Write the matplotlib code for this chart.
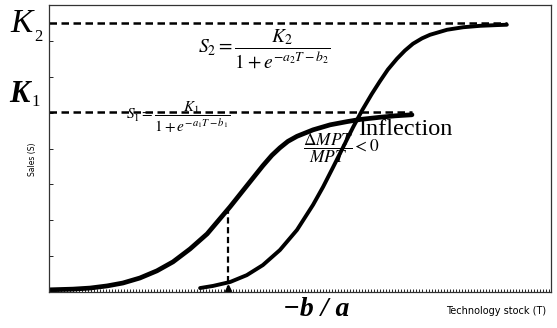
import numpy as np
import matplotlib.pyplot as plt
from matplotlib.ticker import MultipleLocator

plt.rcParams['mathtext.fontset'] = 'stix'

# curve points (technology stock, sales)
t1 = [0.0, 4.8, 8.2, 11.6, 14.7, 18.1, 21.5, 24.7, 28.1, 31.5, 34.1, 36.1, 39.4, 42.6,
      44.4, 46.0, 47.6, 49.4, 52.6, 56.0, 59.4, 62.0, 65.9, 68.9, 72.3]
s1 = [0.06, 0.08, 0.11, 0.17, 0.25, 0.39, 0.59, 0.84, 1.20, 1.62, 2.05, 2.38, 2.96, 3.52,
      3.81, 4.02, 4.20, 4.34, 4.52, 4.66, 4.75, 4.81, 4.87, 4.91, 4.94]

t2 = [30.1, 32.7, 36.1, 39.4, 42.6, 46.0, 49.4, 52.6, 54.6, 56.6, 58.6, 60.6, 62.4, 64.3,
      65.9, 67.5, 69.3, 70.9, 72.5, 74.3, 75.9, 79.3, 82.5, 85.9, 89.2, 91.2]
s2 = [0.11, 0.17, 0.28, 0.47, 0.75, 1.17, 1.73, 2.43, 2.93, 3.48, 4.04, 4.60, 5.07, 5.52,
      5.87, 6.20, 6.50, 6.73, 6.92, 7.07, 7.17, 7.31, 7.38, 7.42, 7.44, 7.45]

K1 = 5.02
K2 = 7.50
inflection_t = 35.7
inflection_s = 2.35

W, H = 557, 328
fig = plt.figure(figsize=(W / 100, H / 100), dpi=100)
ax = fig.add_axes([49 / W, 36 / H, 502 / W, 287 / H])

# saturation levels
ax.plot([0, max(t2)], [K2, K2], color='black', lw=1.8, dashes=[3.0, 1.8])
ax.plot([0, max(t1)], [K1, K1], color='black', lw=1.8, dashes=[3.0, 1.8])

# the two S-curves
ax.plot(t1, s1, color='black', lw=3.4, solid_capstyle='round', solid_joinstyle='round')
ax.plot(t2, s2, color='black', lw=2.8, solid_capstyle='round', solid_joinstyle='round')

# -b/a marker
ax.plot([inflection_t, inflection_t], [0, inflection_s], color='black', lw=1.6, dashes=[2.8, 1.6])
ax.plot([inflection_t], [0.12], marker='^', color='black', ms=4)

ax.set_xlim(0, 100)
ax.set_ylim(0, 8)
ax.yaxis.set_major_locator(MultipleLocator(1))
ax.xaxis.set_major_locator(MultipleLocator(0.6))
ax.tick_params(axis='y', direction='in', length=3, width=0.6, labelleft=False)
ax.tick_params(axis='x', direction='in', length=2, width=0.6, labelbottom=False)
for sp in ax.spines.values():
    sp.set_linewidth(0.9)
    sp.set_color('#333333')

# formulas
ax.text(43, 6.8, r'$S_2=\dfrac{K_2}{1+e^{-a_2T-b_2}}$', fontsize=14, ha='center', va='center')
ax.text(25.7, 4.88, r'$S_1=\dfrac{K_1}{1+e^{-a_1T-b_1}}$', fontsize=11, ha='center', va='center')
ax.text(58.3, 4.0, r'$\dfrac{\Delta MPT}{MPT}<0$', fontsize=12.5, ha='center', va='center')
ax.text(61.6, 4.52, 'Inflection', fontsize=17.5, family='Liberation Serif', ha='left', va='center')

# labels outside the frame
fig.text(22 / W, 1 - 24 / H, 'K', fontsize=24, family='Liberation Serif', style='italic',
         ha='center', va='center')
fig.text(38 / W, 1 - 37 / H, '2', fontsize=12, family='Liberation Serif', ha='center', va='center')
fig.text(19 / W, 1 - 95 / H, 'K', fontsize=22, family='Liberation Serif', style='italic',
         weight='bold', ha='center', va='center')
fig.text(36 / W, 1 - 102 / H, '1', fontsize=12, family='Liberation Serif', ha='center', va='center')
fig.text(316 / W, 1 - 310 / H, '\u2212b / a', fontsize=20, family='Liberation Serif',
         style='italic', weight='bold', ha='center', va='center')
fig.text(496 / W, 1 - 311 / H, 'Technology stock (T)', fontsize=7, ha='center', va='center')
fig.text(33 / W, 1 - 159 / H, 'Sales (S)', fontsize=5.5, rotation=90, ha='center', va='center')

fig.savefig('out.png', dpi=100)
